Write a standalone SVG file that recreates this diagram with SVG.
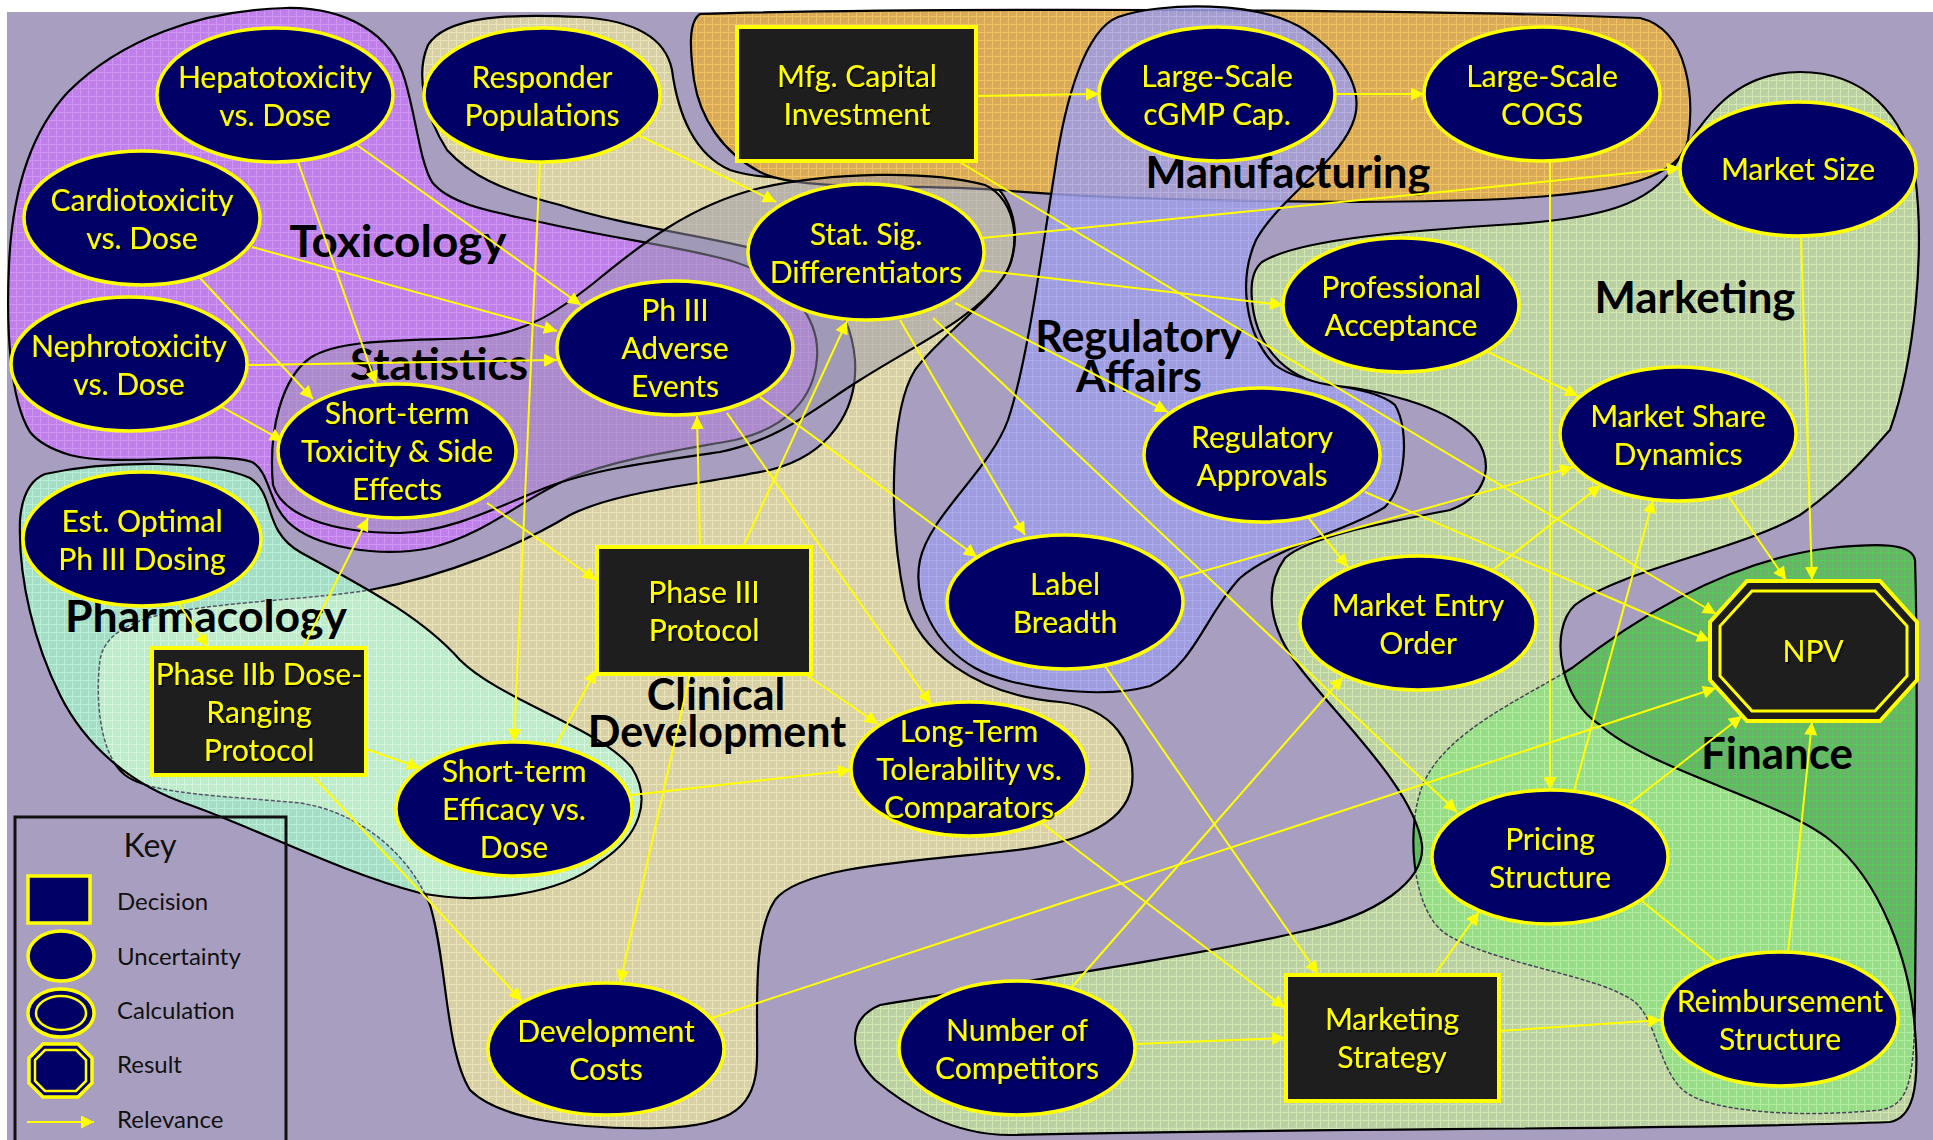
<svg xmlns="http://www.w3.org/2000/svg" width="1933" height="1140" viewBox="0 0 1933 1140">
<style>
.blob{stroke:#000;stroke-width:2.2}
.ne{fill:#000066;stroke:#FFFF00;stroke-width:3.5}
.nr{fill:#1E1E1E;stroke:#FFFF00;stroke-width:4}
.nt{font-family:Lato,"Liberation Sans",sans-serif;font-size:30px;fill:#FFFF00;text-anchor:middle}
.gl{font-family:Lato,"Liberation Sans",sans-serif;font-size:43px;font-weight:bold;fill:#000;text-anchor:middle}
.cn{stroke:#FFFF00;stroke-width:2;fill:none;marker-end:url(#ah)}
.kt{font-family:Lato,"Liberation Sans",sans-serif;font-size:24px;fill:#111}
</style>
<defs>
<marker id="ah" viewBox="0 0 10 10" refX="10" refY="5" markerWidth="16" markerHeight="13" markerUnits="userSpaceOnUse" orient="auto"><path d="M0,0L10,5L0,10Z" fill="#FFFF00"/></marker>
<filter id="ts" x="-10%" y="-10%" width="120%" height="130%"><feDropShadow dx="1.6" dy="1.6" stdDeviation="0.6" flood-color="#000" flood-opacity="0.9"/></filter>
<pattern id="pTox" width="8" height="8" patternUnits="userSpaceOnUse"><rect width="8" height="8" fill="#C17FEC"/><path d="M0 0.5H8M0.5 0V8" stroke="#CD97F3" stroke-width="1"/></pattern>
<pattern id="pClin" width="8" height="8" patternUnits="userSpaceOnUse"><rect width="8" height="8" fill="#D8D0A6"/><path d="M0 0.5H8M0.5 0V8" stroke="#EAE4B8" stroke-width="1"/></pattern>
<pattern id="pMfg" width="8" height="8" patternUnits="userSpaceOnUse"><rect width="8" height="8" fill="#D9AA5A"/><path d="M0 0.5H8M0.5 0V8" stroke="#F0C262" stroke-width="1"/></pattern>
<pattern id="pReg" width="8" height="8" patternUnits="userSpaceOnUse"><rect width="8" height="8" fill="#9D9CE6"/><path d="M0 0.5H8M0.5 0V8" stroke="#ADADF3" stroke-width="1"/></pattern>
<pattern id="pMkt" width="8" height="8" patternUnits="userSpaceOnUse"><rect width="8" height="8" fill="#BCD0A6"/><path d="M0 0.5H8M0.5 0V8" stroke="#D2E8B0" stroke-width="1"/></pattern>
<pattern id="pFin" width="8" height="8" patternUnits="userSpaceOnUse"><rect width="8" height="8" fill="#6BB26B"/><path d="M0 0.5H8M0.5 0V8" stroke="#58C858" stroke-width="1"/></pattern>
<pattern id="pFinMkt" width="8" height="8" patternUnits="userSpaceOnUse"><rect width="8" height="8" fill="#97DC86"/><path d="M0 0.5H8M0.5 0V8" stroke="#B2EC9E" stroke-width="1"/></pattern>
<pattern id="pPh" width="8" height="8" patternUnits="userSpaceOnUse"><rect width="8" height="8" fill="#A5DDC6"/><path d="M0 0.5H8M0.5 0V8" stroke="#B9EED7" stroke-width="1"/></pattern>
<pattern id="pPhClin" width="8" height="8" patternUnits="userSpaceOnUse"><rect width="8" height="8" fill="#BEEBCC"/><path d="M0 0.5H8M0.5 0V8" stroke="#D4F6DA" stroke-width="1"/></pattern>
<path id="shClin" d="M447,150 C425,115 415,75 428,45 C445,18 500,13 580,17 C630,20 665,35 672,70 C678,115 695,155 730,170 C790,190 900,165 975,176 C1012,185 1022,230 1010,265 C995,300 940,335 915,370 C890,410 888,520 905,600 C918,650 975,695 1060,702 C1115,708 1136,745 1132,785 C1125,828 1070,845 1000,852 C900,862 800,868 775,900 C752,935 758,1010 757,1060 C756,1105 735,1126 660,1128 C580,1130 500,1120 470,1090 C445,1050 447,960 430,905 C410,855 360,812 300,803 C230,796 150,795 125,775 C100,755 95,700 100,660 C105,630 140,615 200,608 C260,600 320,598 370,590 C450,575 520,545 570,515 C620,490 700,485 770,470 C830,455 858,410 855,360 C850,300 810,265 760,250 C700,235 620,225 560,205 C500,190 470,175 447,150 Z"/>
<path id="shPh" d="M45,474 C110,460 210,460 250,478 C276,494 262,530 300,552 C360,585 420,615 460,660 C500,700 600,728 632,768 C652,800 640,836 600,862 C560,895 480,905 420,893 C340,872 260,830 190,805 C130,785 85,745 60,695 C35,645 18,580 20,520 C22,495 30,480 45,474 Z"/>
<path id="shMkt" d="M1262,262 C1300,238 1420,230 1515,224 C1600,218 1650,205 1675,165 C1705,115 1735,72 1800,72 C1865,72 1905,115 1915,175 C1925,250 1915,360 1890,430 C1880,440 1850,480 1800,515 C1740,550 1620,570 1575,605 C1548,630 1560,700 1600,725 C1650,770 1780,800 1830,840 C1880,880 1910,960 1915,1030 C1920,1090 1912,1118 1890,1122 C1700,1130 1300,1128 1010,1135 C950,1135 905,1105 875,1080 C850,1055 845,1020 880,1005 C1000,985 1200,955 1300,932 C1380,915 1425,880 1422,845 C1415,790 1340,720 1300,668 C1270,630 1262,590 1285,558 C1310,535 1400,520 1450,510 C1492,495 1495,455 1470,432 C1440,405 1380,390 1330,385 C1280,378 1255,340 1252,300 C1250,280 1255,268 1262,262 Z"/>
<path id="shFin" d="M1572,668 C1640,615 1730,560 1830,548 C1880,543 1912,543 1915,560 C1918,650 1916,900 1915,1000 C1914,1080 1910,1105 1880,1110 C1800,1118 1720,1112 1690,1095 C1655,1075 1660,1010 1625,996 C1590,975 1490,962 1446,934 C1410,910 1405,820 1425,780 C1450,730 1520,700 1572,668 Z"/>
<clipPath id="cPh"><use href="#shPh"/></clipPath>
<clipPath id="cMkt"><use href="#shMkt"/></clipPath>
</defs>

<rect x="7" y="12" width="1926" height="1128" fill="#A89FC0"/>

<g id="regions">
<use href="#shClin" fill="url(#pClin)" class="blob"/>
<path id="toxicology" class="blob" fill="url(#pTox)" d="M30,432 C10,400 6,330 9,265 C12,195 28,135 68,92 C120,40 200,10 286,8 C348,7 392,35 405,80 C417,122 420,162 432,182 C450,205 495,212 540,222 C610,238 690,248 735,262 C790,280 820,318 817,358 C814,400 785,428 735,440 C680,450 620,458 570,478 C520,500 485,535 430,548 C380,558 315,548 288,522 C268,502 270,472 252,462 C215,450 120,468 70,455 C50,449 38,442 30,432 Z"/>
<use href="#shPh" fill="url(#pPh)"/>
<use href="#shClin" fill="url(#pPhClin)" stroke="#556" stroke-width="1.5" stroke-dasharray="4 2" clip-path="url(#cPh)"/>
<use href="#shPh" fill="none" class="blob"/>
<path id="manufacturing" class="blob" fill="url(#pMfg)" d="M700,14 C900,8 1400,8 1640,18 C1690,30 1694,100 1688,140 C1680,178 1620,192 1520,198 C1380,206 1100,200 1000,190 C900,183 800,192 760,172 C722,152 700,118 694,80 C690,50 688,22 700,14 Z"/>
<path id="regulatory" class="blob" fill="url(#pReg)" fill-opacity="0.85" d="M1118,17 C1160,2 1260,0 1305,30 C1350,60 1365,95 1352,125 C1335,165 1278,200 1256,240 C1238,280 1245,335 1275,365 C1305,388 1370,383 1395,405 C1410,430 1406,485 1385,507 C1350,530 1280,545 1240,578 C1205,615 1195,665 1150,686 C1100,700 1010,688 975,668 C935,645 912,600 920,560 C930,515 990,470 1008,420 C1028,360 1042,250 1055,170 C1065,100 1085,30 1118,17 Z"/>
<use href="#shFin" fill="url(#pFin)" class="blob"/>
<use href="#shMkt" fill="url(#pMkt)"/>
<use href="#shFin" fill="url(#pFinMkt)" stroke="#445" stroke-width="1.5" stroke-dasharray="4 2" clip-path="url(#cMkt)"/>
<use href="#shMkt" fill="none" class="blob"/>
<path id="statistics" class="blob" fill="#9A96AE" fill-opacity="0.5" d="M273,485 C268,430 282,378 310,358 C340,338 410,341 470,338 C525,335 560,310 595,282 C640,245 690,205 760,188 C830,172 930,170 985,185 C1018,200 1022,250 1003,278 C975,318 915,345 860,380 C815,408 780,440 720,452 C650,462 590,470 545,488 C495,508 450,532 400,533 C330,533 282,515 273,485 Z"/>
</g>

<g id="labels">
<text class="gl" x="398" y="257" textLength="217" lengthAdjust="spacingAndGlyphs">Toxicology</text>
<text class="gl" x="439" y="380" textLength="178" lengthAdjust="spacingAndGlyphs">Statistics</text>
<text class="gl" x="206" y="632" textLength="282" lengthAdjust="spacingAndGlyphs">Pharmacology</text>
<text class="gl"><tspan x="716" y="710">Clinical</tspan><tspan x="717" y="747">Development</tspan></text>
<text class="gl" x="1288" y="188" textLength="285" lengthAdjust="spacingAndGlyphs">Manufacturing</text>
<text class="gl"><tspan x="1139" y="352">Regulatory</tspan><tspan x="1139" y="392">Affairs</tspan></text>
<text class="gl" x="1695" y="313" textLength="201" lengthAdjust="spacingAndGlyphs">Marketing</text>
<text class="gl" x="1777" y="769" textLength="152" lengthAdjust="spacingAndGlyphs">Finance</text>
</g>

<g id="key">
<rect x="15" y="817" width="271" height="330" fill="none" stroke="#111" stroke-width="3"/>
<text x="150" y="857" font-family="Lato, 'Liberation Sans', sans-serif" font-size="32" fill="#111" text-anchor="middle">Key</text>
<rect x="28" y="876" width="62" height="47" class="ne" stroke-width="4"/>
<ellipse cx="61" cy="956" rx="33" ry="25" class="ne"/>
<ellipse cx="61" cy="1013" rx="33" ry="24" class="ne"/>
<ellipse cx="61" cy="1013" rx="25" ry="17" fill="none" stroke="#FFFF00" stroke-width="2.5"/>
<polygon points="43,1044 78,1044 92,1058 92,1083 78,1097 43,1097 29,1083 29,1058" class="ne"/>
<polygon points="45,1050 76,1050 86,1060 86,1081 76,1091 45,1091 35,1081 35,1060" fill="none" stroke="#FFFF00" stroke-width="2.5"/>
<line x1="27" y1="1122" x2="94" y2="1122" class="cn" stroke-width="3"/>
<text class="kt" x="117" y="910">Decision</text>
<text class="kt" x="117" y="965">Uncertainty</text>
<text class="kt" x="117" y="1019">Calculation</text>
<text class="kt" x="117" y="1073">Result</text>
<text class="kt" x="117" y="1128">Relevance</text>
</g>

<g id="connectors">
<path class="cn" d="M298,162L376,384"/>
<path class="cn" d="M357,145L581,305"/>
<path class="cn" d="M252,247L557,331"/>
<path class="cn" d="M199,277L313,399"/>
<path class="cn" d="M248,365L557,360"/>
<path class="cn" d="M222,407L283,441"/>
<path class="cn" d="M540,162L514,742"/>
<path class="cn" d="M638,135L776,202"/>
<path class="cn" d="M976,96L1099,94"/>
<path class="cn" d="M958,161L1716,614"/>
<path class="cn" d="M1335,94L1424,94"/>
<path class="cn" d="M1550,161L1550,790"/>
<path class="cn" d="M982,238L1680,168"/>
<path class="cn" d="M978,270L1283,305"/>
<path class="cn" d="M955,303L1168,412"/>
<path class="cn" d="M900,320L1025,535"/>
<path class="cn" d="M933,318L1457,812"/>
<path class="cn" d="M727,413L931,704"/>
<path class="cn" d="M760,397L977,557"/>
<path class="cn" d="M700,547L697,416"/>
<path class="cn" d="M743,547L847,321"/>
<path class="cn" d="M805,674L878,724"/>
<path class="cn" d="M690,674L620,983"/>
<path class="cn" d="M487,503L596,580"/>
<path class="cn" d="M303,648L368,518"/>
<path class="cn" d="M366,749L420,768"/>
<path class="cn" d="M312,775L522,1001"/>
<path class="cn" d="M179,604L208,647"/>
<path class="cn" d="M556,745L596,670"/>
<path class="cn" d="M632,795L851,770"/>
<path class="cn" d="M1043,824L1285,1008"/>
<path class="cn" d="M1179,578L1573,467"/>
<path class="cn" d="M1105,666L1318,974"/>
<path class="cn" d="M1135,1044L1285,1038"/>
<path class="cn" d="M1072,987L1343,677"/>
<path class="cn" d="M712,1018L1716,688"/>
<path class="cn" d="M1435,974L1479,912"/>
<path class="cn" d="M1499,1031L1661,1020"/>
<path class="cn" d="M1629,804L1742,716"/>
<path class="cn" d="M1574,791L1653,500"/>
<path d="M1642,901L1718,963" stroke="#FFFF00" stroke-width="2" fill="none"/>
<path class="cn" d="M1788,953L1812,722"/>
<path class="cn" d="M1727,494L1786,580"/>
<path class="cn" d="M1801,236L1812,580"/>
<path class="cn" d="M1307,516L1348,567"/>
<path class="cn" d="M1365,492L1710,641"/>
<path class="cn" d="M1494,569L1601,485"/>
<path class="cn" d="M1482,349L1578,396"/>
</g>

<g id="nodes">
<g id="n-hepato"><ellipse class="ne" cx="275" cy="95" rx="118" ry="67"/><text class="nt" filter="url(#ts)"><tspan x="275" y="88">Hepatotoxicity</tspan><tspan x="275" y="126">vs. Dose</tspan></text></g>
<g id="n-responder"><ellipse class="ne" cx="542" cy="95" rx="118" ry="67"/><text class="nt" filter="url(#ts)"><tspan x="542" y="88">Responder</tspan><tspan x="542" y="126">Populations</tspan></text></g>
<g id="n-mfgcap"><rect class="nr" x="737" y="27" width="239" height="134"/><text class="nt" filter="url(#ts)"><tspan x="857" y="87">Mfg. Capital</tspan><tspan x="857" y="125">Investment</tspan></text></g>
<g id="n-cgmp"><ellipse class="ne" cx="1217" cy="94" rx="118" ry="67"/><text class="nt" filter="url(#ts)"><tspan x="1217" y="87">Large-Scale</tspan><tspan x="1217" y="125">cGMP Cap.</tspan></text></g>
<g id="n-cogs"><ellipse class="ne" cx="1542" cy="94" rx="118" ry="67"/><text class="nt" filter="url(#ts)"><tspan x="1542" y="87">Large-Scale</tspan><tspan x="1542" y="125">COGS</tspan></text></g>
<g id="n-mktsize"><ellipse class="ne" cx="1798" cy="169" rx="118" ry="67"/><text class="nt" filter="url(#ts)" x="1798" y="180">Market Size</text></g>
<g id="n-cardio"><ellipse class="ne" cx="142" cy="218" rx="118" ry="67"/><text class="nt" filter="url(#ts)"><tspan x="142" y="211">Cardiotoxicity</tspan><tspan x="142" y="249">vs. Dose</tspan></text></g>
<g id="n-statsig"><ellipse class="ne" cx="866" cy="252" rx="118" ry="68"/><text class="nt" filter="url(#ts)"><tspan x="866" y="245">Stat. Sig.</tspan><tspan x="866" y="283">Differentiators</tspan></text></g>
<g id="n-profacc"><ellipse class="ne" cx="1401" cy="305" rx="118" ry="67"/><text class="nt" filter="url(#ts)"><tspan x="1401" y="298">Professional</tspan><tspan x="1401" y="336">Acceptance</tspan></text></g>
<g id="n-nephro"><ellipse class="ne" cx="129" cy="364" rx="118" ry="67"/><text class="nt" filter="url(#ts)"><tspan x="129" y="357">Nephrotoxicity</tspan><tspan x="129" y="395">vs. Dose</tspan></text></g>
<g id="n-ph3ae"><ellipse class="ne" cx="675" cy="348" rx="118" ry="67"/><text class="nt" filter="url(#ts)"><tspan x="675" y="321">Ph III</tspan><tspan x="675" y="359">Adverse</tspan><tspan x="675" y="397">Events</tspan></text></g>
<g id="n-sttox"><ellipse class="ne" cx="397" cy="451" rx="119" ry="67"/><text class="nt" filter="url(#ts)"><tspan x="397" y="424">Short-term</tspan><tspan x="397" y="462">Toxicity &amp; Side</tspan><tspan x="397" y="500">Effects</tspan></text></g>
<g id="n-regapp"><ellipse class="ne" cx="1262" cy="455" rx="118" ry="67"/><text class="nt" filter="url(#ts)"><tspan x="1262" y="448">Regulatory</tspan><tspan x="1262" y="486">Approvals</tspan></text></g>
<g id="n-msd"><ellipse class="ne" cx="1678" cy="434" rx="118" ry="67"/><text class="nt" filter="url(#ts)"><tspan x="1678" y="427">Market Share</tspan><tspan x="1678" y="465">Dynamics</tspan></text></g>
<g id="n-estopt"><ellipse class="ne" cx="142" cy="539" rx="119" ry="67"/><text class="nt" filter="url(#ts)"><tspan x="142" y="532">Est. Optimal</tspan><tspan x="142" y="570">Ph III Dosing</tspan></text></g>
<g id="n-label"><ellipse class="ne" cx="1065" cy="602" rx="118" ry="67"/><text class="nt" filter="url(#ts)"><tspan x="1065" y="595">Label</tspan><tspan x="1065" y="633">Breadth</tspan></text></g>
<g id="n-ph3prot"><rect class="nr" x="597" y="547" width="214" height="127"/><text class="nt" filter="url(#ts)"><tspan x="704" y="603">Phase III</tspan><tspan x="704" y="641">Protocol</tspan></text></g>
<g id="n-meo"><ellipse class="ne" cx="1418" cy="623" rx="118" ry="67"/><text class="nt" filter="url(#ts)"><tspan x="1418" y="616">Market Entry</tspan><tspan x="1418" y="654">Order</tspan></text></g>
<g id="n-npv"><polygon points="1747,581 1880,581 1917,622 1917,680 1880,721 1747,721 1710,680 1710,622" fill="#1E1E1E" stroke="#FFFF00" stroke-width="4"/><polygon points="1752,591 1875,591 1907,626 1907,676 1875,711 1752,711 1720,676 1720,626" fill="none" stroke="#FFFF00" stroke-width="3"/><text class="nt" filter="url(#ts)" x="1813" y="662">NPV</text></g>
<g id="n-ph2b"><rect class="nr" x="152" y="648" width="214" height="127"/><text class="nt" filter="url(#ts)"><tspan x="259" y="685">Phase IIb Dose-</tspan><tspan x="259" y="723">Ranging</tspan><tspan x="259" y="761">Protocol</tspan></text></g>
<g id="n-steff"><ellipse class="ne" cx="514" cy="809" rx="118" ry="67"/><text class="nt" filter="url(#ts)"><tspan x="514" y="782">Short-term</tspan><tspan x="514" y="820">Efficacy vs.</tspan><tspan x="514" y="858">Dose</tspan></text></g>
<g id="n-ltt"><ellipse class="ne" cx="969" cy="769" rx="118" ry="67"/><text class="nt" filter="url(#ts)"><tspan x="969" y="742">Long-Term</tspan><tspan x="969" y="780">Tolerability vs.</tspan><tspan x="969" y="818">Comparators</tspan></text></g>
<g id="n-pricing"><ellipse class="ne" cx="1550" cy="857" rx="118" ry="67"/><text class="nt" filter="url(#ts)"><tspan x="1550" y="850">Pricing</tspan><tspan x="1550" y="888">Structure</tspan></text></g>
<g id="n-devcost"><ellipse class="ne" cx="606" cy="1049" rx="118" ry="66"/><text class="nt" filter="url(#ts)"><tspan x="606" y="1042">Development</tspan><tspan x="606" y="1080">Costs</tspan></text></g>
<g id="n-numcomp"><ellipse class="ne" cx="1017" cy="1048" rx="118" ry="67"/><text class="nt" filter="url(#ts)"><tspan x="1017" y="1041">Number of</tspan><tspan x="1017" y="1079">Competitors</tspan></text></g>
<g id="n-mktstrat"><rect class="nr" x="1286" y="975" width="213" height="126"/><text class="nt" filter="url(#ts)"><tspan x="1392" y="1030">Marketing</tspan><tspan x="1392" y="1068">Strategy</tspan></text></g>
<g id="n-reimb"><ellipse class="ne" cx="1780" cy="1019" rx="118" ry="67"/><text class="nt" filter="url(#ts)"><tspan x="1780" y="1012">Reimbursement</tspan><tspan x="1780" y="1050">Structure</tspan></text></g>
</g>
</svg>
